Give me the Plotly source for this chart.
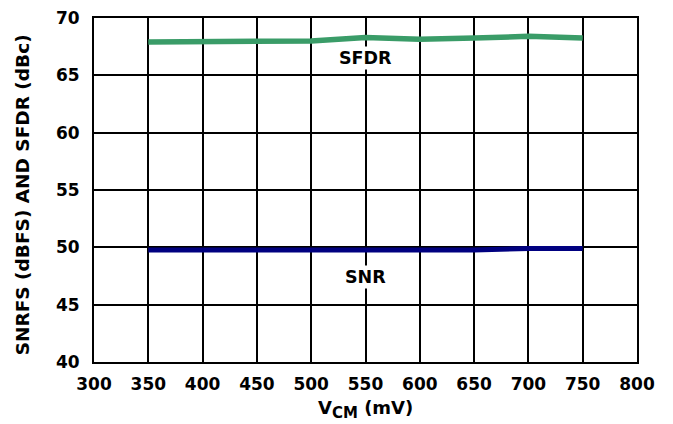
import plotly.graph_objects as go

vcm = [350, 400, 450, 500, 550, 600, 650, 700, 750]
sfdr = [67.9, 67.9, 68.0, 68.0, 68.3, 68.15, 68.25, 68.4, 68.25]
snr = [49.77, 49.77, 49.77, 49.77, 49.77, 49.77, 49.77, 49.9, 49.9]
x_ticks = [300, 350, 400, 450, 500, 550, 600, 650, 700, 750, 800]
y_ticks = [40, 45, 50, 55, 60, 65, 70]

font_family = "DejaVu Sans"

fig = go.Figure()
fig.add_trace(go.Scatter(x=vcm, y=sfdr, mode="lines", line=dict(color="#3a9c68", width=5.5), name="SFDR"))
fig.add_trace(go.Scatter(x=vcm, y=snr, mode="lines", line=dict(color="#000080", width=5), name="SNR"))

fig.add_annotation(x=550, y=66.5, text="<b>SFDR</b>", showarrow=False, bgcolor="white",
                   font=dict(family=font_family, size=17.5, color="black"))
fig.add_annotation(x=550, y=47.45, text="<b>SNR</b>", showarrow=False, bgcolor="white",
                   font=dict(family=font_family, size=17.5, color="black"))

# axis titles as annotations for precise placement
fig.add_annotation(xref="paper", yref="paper", x=-0.131, y=0.487, textangle=-90,
                   text="<b>SNRFS (dBFS) AND SFDR (dBc)</b>", showarrow=False,
                   xanchor="center", yanchor="middle",
                   font=dict(family=font_family, size=18.5, color="black"))
fig.add_annotation(xref="paper", yref="paper", x=0.5, y=-0.1395,
                   text="<b>V<sub><span style='font-size:15px'>CM</span></sub> (mV)</b>", showarrow=False,
                   xanchor="center", yanchor="middle",
                   font=dict(family=font_family, size=18, color="black"))

fig.update_layout(
    width=665, height=416,
    margin=dict(l=86, r=36, t=10, b=62, autoexpand=False),
    plot_bgcolor="white", paper_bgcolor="white",
    showlegend=False,
    font=dict(family=font_family, size=17, color="black"),
)
fig.update_xaxes(
    range=[300, 800], tickvals=x_ticks, ticktext=[f"<b>{t}</b>" for t in x_ticks],
    showgrid=True, gridcolor="black", gridwidth=2,
    showline=True, linecolor="black", linewidth=2, mirror=True,
    zeroline=False, ticks="", ticklabelstandoff=6, automargin=False,
    ticklabeloverflow="allow",
    tickfont=dict(size=17),
)
fig.update_yaxes(
    range=[40, 70], tickvals=y_ticks, ticktext=[f"<b>{t}</b>" for t in y_ticks],
    showgrid=True, gridcolor="black", gridwidth=2,
    showline=True, linecolor="black", linewidth=2, mirror=True,
    zeroline=False, ticks="", ticklabelstandoff=9, automargin=False,
    ticklabeloverflow="allow",
    tickfont=dict(size=17),
)

fig.write_html("out.html")
